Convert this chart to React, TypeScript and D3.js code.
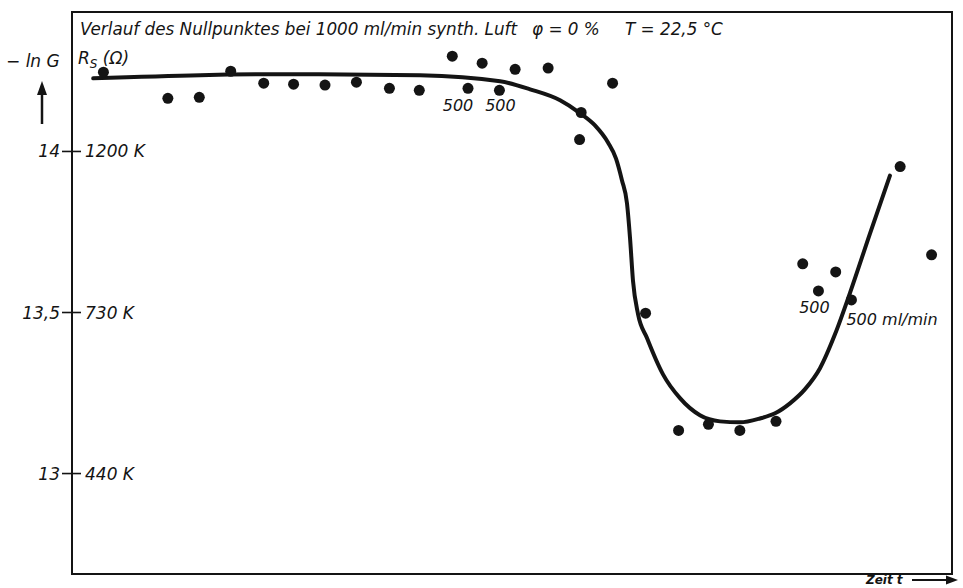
import React from 'react';
import * as d3 from 'd3';

// Messpunkte (Zeit in willk. Einheiten, -ln G)
const pointT = [2.0, 6.1, 8.1, 10.1, 12.2, 14.1, 16.1, 18.1, 20.2, 22.1, 24.2, 25.2, 26.1, 27.2, 28.2, 30.3, 32.4, 32.3, 34.4, 36.5, 38.6, 40.5, 42.5, 44.8, 46.5, 47.5, 48.6, 49.6, 52.7, 54.7];
const pointG = [14.246, 14.165, 14.168, 14.249, 14.212, 14.209, 14.206, 14.215, 14.196, 14.19, 14.296, 14.196, 14.274, 14.19, 14.255, 14.259, 14.121, 14.037, 14.212, 13.498, 13.134, 13.153, 13.134, 13.162, 13.651, 13.567, 13.626, 13.539, 13.953, 13.679];

// Ausgleichskurve
const fitT = [1.35, 8.15, 14.5, 22.15, 27.24, 29.15, 31.06, 32.3, 33.28, 34.11, 34.62, 35.0, 35.32, 35.51, 35.7, 36.02, 36.59, 37.61, 38.69, 39.96, 41.24, 42.51, 43.78, 44.74, 45.69, 46.65, 47.6, 48.56, 49.51, 50.78, 52.05];
const fitG = [14.227, 14.237, 14.24, 14.237, 14.218, 14.193, 14.159, 14.12, 14.081, 14.028, 13.978, 13.91, 13.838, 13.732, 13.598, 13.495, 13.421, 13.308, 13.234, 13.181, 13.162, 13.159, 13.171, 13.187, 13.218, 13.262, 13.327, 13.433, 13.561, 13.745, 13.925];

// Achsenbeschriftung
const yTicks = [14, 13.5, 13];
const yTickLabels = ['14', '13,5', '13'];
const rsLabels = ['1200 K', '730 K', '440 K'];

// Beschriftungen an Punkten: [Punktindex, Text, dx, dy, Ausrichtung]
const annotations: [number, string, number, number, string][] = [
  [11, '500', -10, 23, 'middle'],
  [13, '500', 1, 21, 'middle'],
  [25, '500', -4, 22, 'middle'],
  [27, '500 ml/min', -5, 25, 'start'],
];

const W = 963;
const H = 588;
const frame = { left: 72, right: 952, top: 12, bottom: 574 };
const ink = '#141414';
const font = '"DejaVu Sans", Verdana, sans-serif';

export default function App() {
  const x = d3.scaleLinear().domain([0, 56]).range([frame.left, frame.right]);
  const y = d3.scaleLinear().domain([12.685, 14.433]).range([frame.bottom + 1, frame.top]);

  const fitData = fitT.map((t, i) => [t, fitG[i]] as [number, number]);
  const line = d3
    .line<[number, number]>()
    .x((d) => x(d[0]))
    .y((d) => y(d[1]))
    .curve(d3.curveMonotoneX);

  const txt = {
    fontFamily: font,
    fontStyle: 'italic',
    fill: ink,
  } as React.CSSProperties;

  return (
    <svg
      width={W}
      height={H}
      style={{ position: 'absolute', left: 0, top: 0, background: '#fff' }}
    >
      <rect x={0} y={0} width={W} height={H} fill="#fff" />
      {/* Rahmen */}
      <rect
        x={frame.left}
        y={frame.top}
        width={frame.right - frame.left}
        height={frame.bottom - frame.top}
        fill="none"
        stroke={ink}
        strokeWidth={2}
      />

      {/* Titel */}
      <text x={80} y={35} fontSize={16.8} style={txt}>
        Verlauf des Nullpunktes bei 1000 ml/min synth. Luft
      </text>
      <text x={532} y={35} fontSize={16.8} style={txt}>
        φ = 0 %
      </text>
      <text x={625} y={35} fontSize={16.8} style={txt}>
        T = 22,5 °C
      </text>

      {/* y-Achsentitel */}
      <text x={6} y={67} fontSize={17} style={txt}>
        − ln G
      </text>
      <text x={78} y={64} fontSize={17} style={txt}>
        R
        <tspan fontSize={12} dy={4}>S</tspan>
        <tspan dy={-4}> (Ω)</tspan>
      </text>
      <line x1={42} y1={124} x2={42} y2={92} stroke={ink} strokeWidth={2.5} />
      <path d="M42,81 L37,95 L47,95 Z" fill={ink} />

      {/* y-Ticks */}
      {yTicks.map((v, i) => (
        <g key={v}>
          <line
            x1={frame.left - 10}
            x2={frame.left + 9}
            y1={y(v)}
            y2={y(v)}
            stroke={ink}
            strokeWidth={1.6}
          />
          <text
            x={frame.left - 12}
            y={y(v) + 6}
            fontSize={17}
            textAnchor="end"
            style={txt}
          >
            {yTickLabels[i]}
          </text>
          <text x={frame.left + 13} y={y(v) + 6} fontSize={17} style={txt}>
            {rsLabels[i]}
          </text>
        </g>
      ))}

      {/* Ausgleichskurve */}
      <path d={line(fitData) || ''} fill="none" stroke={ink} strokeWidth={4} strokeLinecap="round" />

      {/* Messpunkte */}
      {pointT.map((t, i) => (
        <circle key={i} cx={x(t)} cy={y(pointG[i])} r={5.5} fill={ink} />
      ))}

      {/* Beschriftungen */}
      {annotations.map(([idx, label, dx, dy, anchor], i) => (
        <text
          key={i}
          x={x(pointT[idx]) + dx}
          y={y(pointG[idx]) + dy}
          fontSize={16}
          textAnchor={anchor as any}
          style={txt}
        >
          {label}
        </text>
      ))}

      {/* Zeitachse */}
      <text x={866} y={584} fontSize={12} fontWeight="bold" style={txt}>
        Zeit t
      </text>
      <line x1={912} y1={580} x2={948} y2={580} stroke={ink} strokeWidth={2} />
      <path d="M958,580 L946,575.5 L946,584.5 Z" fill={ink} />
    </svg>
  );
}
